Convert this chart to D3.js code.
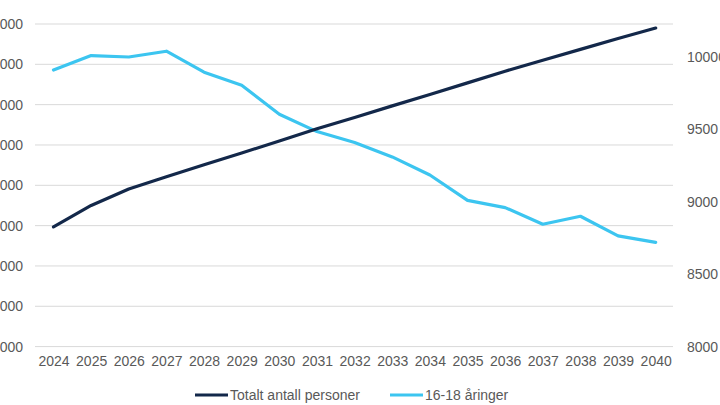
<!DOCTYPE html>
<html>
<head>
<meta charset="utf-8">
<script src="https://cdn.jsdelivr.net/npm/d3@7"></script>
<style>
  html, body { margin: 0; padding: 0; background: #fff; overflow: hidden; }
  svg { display: block; }
  text { font-family: "Liberation Sans", Arial, sans-serif; fill: #595959; }
</style>
</head>
<body>
<svg id="chart" width="720" height="405"></svg>
<script>
const years = ["2024","2025","2026","2027","2028","2029","2030","2031","2032","2033","2034","2035","2036","2037","2038","2039","2040"];
const totalt = [469700, 475000, 479100, 482100, 485100, 488000, 491000, 494000, 496800, 499700, 502500, 505400, 508300, 511000, 513700, 516400, 519000];
const aringer = [9910, 10010, 10000, 10040, 9895, 9805, 9605, 9485, 9410, 9310, 9185, 9010, 8960, 8845, 8900, 8765, 8720];
const leftTicks = [440000, 450000, 460000, 470000, 480000, 490000, 500000, 510000, 520000];
const rightTicks = [8000, 8500, 9000, 9500, 10000];
const seriesNames = ["Totalt antall personer", "16-18 åringer"];
const colors = ["#13284a", "#3cc5f0"];

const svg = d3.select("#chart");
const x = d3.scalePoint().domain(years).range([53.5, 655.7]);
const yL = d3.scaleLinear().domain([440000, 520000]).range([346.6, 24]);
const yR = d3.scaleLinear().domain([8000, 10228]).range([346.6, 24]);

// gridlines
svg.append("g").selectAll("line").data(leftTicks).join("line")
  .attr("x1", 35).attr("x2", 673)
  .attr("y1", d => yL(d)).attr("y2", d => yL(d))
  .attr("stroke", "#d9d9d9").attr("stroke-width", 1);

// left axis
const gl = svg.append("g").attr("transform", "translate(23,0)")
  .call(d3.axisLeft(yL).tickValues(leftTicks).tickSize(0).tickPadding(0).tickFormat(d3.format("d")));
gl.select(".domain").remove();
gl.selectAll("text").attr("font-size", 14).style("font-family", "'Liberation Sans', Arial, sans-serif").attr("fill", "#595959");

// right axis
const gr = svg.append("g").attr("transform", "translate(687,0)")
  .call(d3.axisRight(yR).tickValues(rightTicks).tickSize(0).tickPadding(0).tickFormat(d3.format("d")));
gr.select(".domain").remove();
gr.selectAll("text").attr("font-size", 14).style("font-family", "'Liberation Sans', Arial, sans-serif").attr("fill", "#595959");

// x axis
const gx = svg.append("g").attr("transform", "translate(0,356)")
  .call(d3.axisBottom(x).tickSize(0).tickPadding(0));
gx.select(".domain").remove();
gx.selectAll("text").attr("font-size", 14).attr("dy", "0.71em").style("font-family", "'Liberation Sans', Arial, sans-serif").attr("fill", "#595959");

// lines
const lineL = d3.line().x((d, i) => x(years[i])).y(d => yL(d));
const lineR = d3.line().x((d, i) => x(years[i])).y(d => yR(d));
svg.append("path").datum(aringer).attr("d", lineR)
  .attr("fill", "none").attr("stroke", colors[1]).attr("stroke-width", 3.2)
  .attr("stroke-linejoin", "round").attr("stroke-linecap", "round");
svg.append("path").datum(totalt).attr("d", lineL)
  .attr("fill", "none").attr("stroke", colors[0]).attr("stroke-width", 3.2)
  .attr("stroke-linejoin", "round").attr("stroke-linecap", "round");

// legend
const legendX = [195, 390];
const lg = svg.append("g");
seriesNames.forEach((name, i) => {
  lg.append("line").attr("x1", legendX[i]).attr("x2", legendX[i] + 33)
    .attr("y1", 395).attr("y2", 395).attr("stroke", colors[i]).attr("stroke-width", 3);
  lg.append("text").attr("x", legendX[i] + 35).attr("y", 400)
    .attr("font-size", 14).text(name);
});
</script>
</body>
</html>
